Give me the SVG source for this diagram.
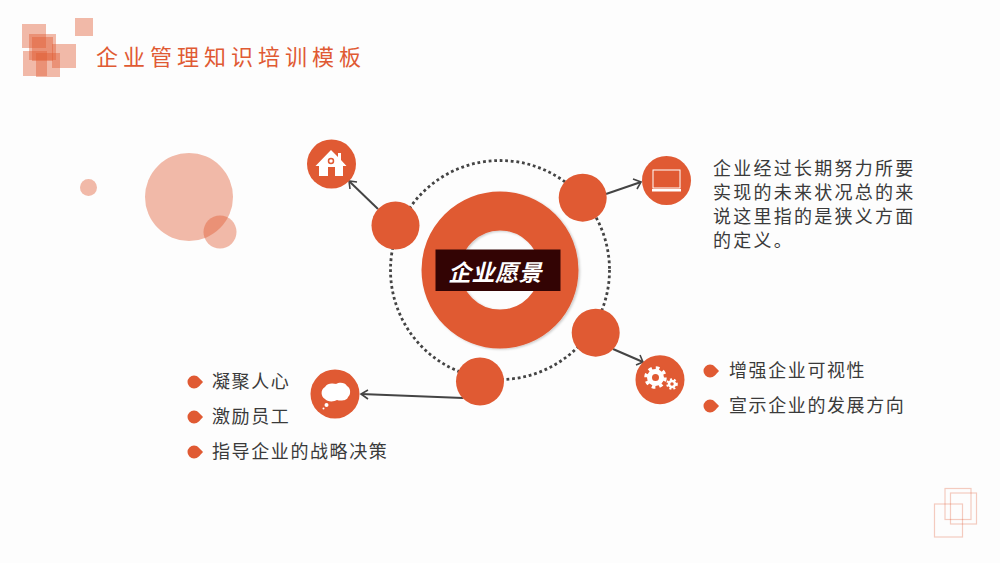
<svg xmlns="http://www.w3.org/2000/svg" width="1000" height="563" viewBox="0 0 1000 563">
<style>
.cjk{font-family:"Noto Sans CJK SC","Noto Sans",sans-serif}
.t{font-size:18px;fill:#3a3a3a;letter-spacing:1.6px}
.o{fill:#e05a33}
.p{fill:#e05a33;opacity:.42}
.fr{fill:none;stroke:#e05a33;stroke-opacity:.3;stroke-width:1.2}
.c{fill:none;stroke:#444;stroke-width:2}
.a{fill:none;stroke:#444;stroke-width:1.6}
.w{fill:#fff}
.wl{fill:none;stroke:#fff}
</style>
<defs>
<filter id="sh" filterUnits="userSpaceOnUse" x="410" y="180" width="180" height="180"><feDropShadow dx="1.500" dy="1" stdDeviation="1" flood-color="#000" flood-opacity=".2"/></filter>
<path id="bul" class="o" d="M-1 -6.500C3 -6.500 5 -3 8 0 5 3 3 6.500 -1 6.500A6.500 6.500 0 0 1 -1 -6.500Z"/>
</defs>
<rect width="1000" height="563" fill="#fdfdfd"/>
<g id="logo">
<rect class="p" x="22" y="24" width="24" height="24"/>
<rect class="p" x="75" y="18" width="18" height="18"/>
<rect class="p" x="29" y="34" width="27" height="26"/>
<rect class="p" x="32" y="37" width="21" height="24"/>
<rect class="p" x="52" y="44" width="24" height="24"/>
<rect class="p" x="23" y="51" width="24" height="25"/>
<rect class="p" x="36" y="53" width="24" height="24"/>
</g>
<text id="title" class="cjk" x="96" y="65" font-size="22" letter-spacing="5" fill="#e05a33">企业管理知识培训模板</text>
<g id="deco">
<circle class="p" cx="189" cy="197" r="44" opacity=".45"/>
<circle class="p" cx="220" cy="232" r="16.500" opacity=".5"/>
<circle class="p" cx="88.500" cy="187.500" r="8.500" opacity=".45"/>
</g>
<g id="frames">
<rect class="fr" x="945" y="488.500" width="26" height="31"/>
<rect class="fr" x="950.500" y="493" width="26" height="31"/>
<rect class="fr" x="934.500" y="504" width="28" height="33"/>
</g>
<g id="connectors">
<circle cx="500" cy="270" r="109.500" fill="none" stroke="#444" stroke-dasharray="2.800 2.800" stroke-width="2.800"/>
<path class="c" d="M378 209 350 182"/><path class="a" d="M350 189 349 181 357 182"/>
<path class="c" d="M606 194 641 182"/><path class="a" d="M633 179 641 182 637 189"/>
<path class="c" d="M613 349 643 362"/><path class="a" d="M636 365 643 362 640 355"/>
<path class="c" d="M463 398 361 394"/><path class="a" d="M368 390 361 394 368 399"/>
</g>
<g id="hub">
<circle cx="500" cy="270" r="59" fill="none" stroke="#e05a33" stroke-width="39" filter="url(#sh)"/>
<rect x="435.500" y="249.500" width="125" height="41.500" fill="#330404"/>
<text class="cjk" x="448" y="281" font-size="23" font-weight="700" font-style="italic" letter-spacing=".5" fill="#fff">企业愿景</text>
</g>
<g id="node-1"><circle class="o" cx="395.500" cy="225.500" r="24"/></g>
<g id="node-2"><circle class="o" cx="582.700" cy="197.700" r="24"/></g>
<g id="node-3"><circle class="o" cx="595.700" cy="332.700" r="24"/></g>
<g id="node-4"><circle class="o" cx="480" cy="381.500" r="24"/></g>
<g id="icon-home"><circle class="o" cx="331.500" cy="164" r="24.500"/>
<path class="w" d="M315.500 166 331 150 338 157V153H341V160L346.500 166H343V176H335V167H328V176H319V166Z"/>
<circle cx="331" cy="161" r="2.500" fill="none" stroke="#e05a33" stroke-width="1.500"/></g>
<g id="icon-laptop"><circle class="o" cx="666.500" cy="180.500" r="24.500"/>
<rect class="wl" x="653" y="170" width="27" height="18" stroke-width="1"/>
<rect class="w" x="652" y="189" width="29" height="2.500"/></g>
<g id="icon-gear"><circle class="o" cx="660" cy="379.700" r="24.500"/>
<circle cx="655.500" cy="377.500" r="6" fill="none" stroke="#fff" stroke-width="5"/>
<circle cx="655.500" cy="377.500" r="9.500" fill="none" stroke="#fff" stroke-width="3.500" stroke-dasharray="3.600 3.860"/>
<circle cx="672" cy="384" r="3" fill="none" stroke="#fff" stroke-width="2.500"/>
<circle cx="672" cy="384" r="4.800" fill="none" stroke="#fff" stroke-width="2" stroke-dasharray="2 2"/></g>
<g id="icon-cloud"><circle class="o" cx="335" cy="394" r="24.500"/>
<path class="w" d="M325 387C328 382 334 384 336 384 339 382 345 382 347 386 351 388 351 395 348 397 347 401 340 401 337 400 334 402 327 402 325 399 321 397 320 390 325 387Z"/>
<circle class="w" cx="326.500" cy="405" r="2"/><circle class="w" cx="323.500" cy="408.500" r="1"/></g>
<g id="list-left">
<use href="#bul" x="195" y="382"/><text class="cjk t" x="212" y="388">凝聚人心</text>
<use href="#bul" x="195" y="417"/><text class="cjk t" x="212" y="423">激励员工</text>
<use href="#bul" x="195" y="452"/><text class="cjk t" x="212" y="458">指导企业的战略决策</text>
</g>
<g id="list-right">
<use href="#bul" x="711" y="371"/><text class="cjk t" x="729" y="377">增强企业可视性</text>
<use href="#bul" x="711" y="406"/><text class="cjk t" x="729" y="412">宣示企业的发展方向</text>
</g>
<g id="desc" class="cjk" font-size="18" letter-spacing="2.250" fill="#3a3a3a">
<text x="713" y="175">企业经过长期努力所要</text>
<text x="713" y="199">实现的未来状况总的来</text>
<text x="713" y="223">说这里指的是狭义方面</text>
<text x="713" y="247">的定义。</text>
</g>
</svg>
